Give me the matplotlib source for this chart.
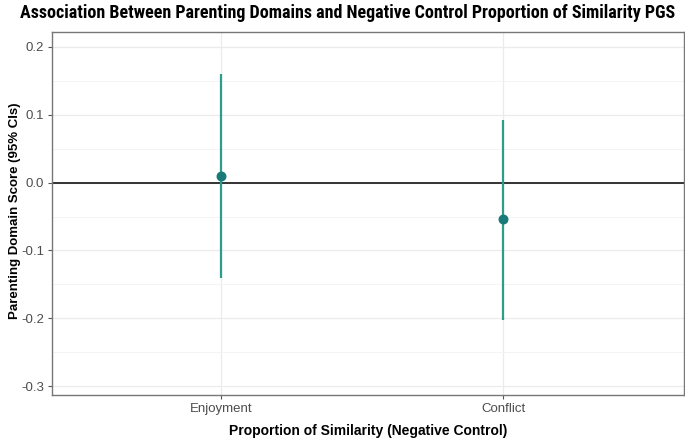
import matplotlib
matplotlib.use("Agg")
import matplotlib.pyplot as plt
from matplotlib.ticker import MultipleLocator

categories = ["Enjoyment", "Conflict"]
estimates = [0.010, -0.053]
lower = [-0.140, -0.202]
upper = [0.160, 0.093]

plt.rcParams['font.family'] = ['Liberation Sans', 'DejaVu Sans']

fig = plt.figure(figsize=(6.85, 4.48), dpi=100)
ax = fig.add_axes([52/685, 1-395/448, 632/685, 363/448])

x = list(range(1, len(categories)+1))
for xi, e, lo, hi in zip(x, estimates, lower, upper):
    ax.plot([xi, xi], [lo, hi], color='#2a9d8f', lw=1.6, zorder=3, solid_capstyle='butt')
ax.scatter(x, estimates, color='#1a7a7a', s=38, zorder=4)
ax.axhline(0, color='#333333', lw=1.4, zorder=2)

ax.set_xlim(0.4, 2.64)
ax.set_ylim(-0.313, 0.222)
ax.set_xticks(x)
ax.set_xticklabels(categories)
ticks = [-0.3, -0.2, -0.1, 0.0, 0.1, 0.2]
ax.set_yticks(ticks)
ax.set_yticklabels([f"{t:.1f}" for t in ticks])
ax.yaxis.set_minor_locator(MultipleLocator(0.05))
ax.grid(which='major', color='#ebebeb', lw=0.9)
ax.grid(which='minor', axis='y', color='#f3f3f3', lw=0.6)
ax.set_axisbelow(True)
ax.tick_params(which='minor', length=0)
ax.tick_params(which='major', length=3, color='#555555', labelcolor='#4d4d4d', labelsize=9.5, pad=2.5)
for s in ax.spines.values():
    s.set_color('#777777')
    s.set_linewidth(1.0)

ax.set_xlabel("Proportion of Similarity (Negative Control)", fontsize=10, fontweight='bold', labelpad=7)
ax.set_ylabel("Parenting Domain Score (95% CIs)", fontsize=9.5, fontweight='bold')
ax.yaxis.set_label_coords(-31/632, 0.5 + 3/363)
fig.text(0.5+5/685, 1-13/448, "Association Between Parenting Domains and Negative Control Proportion of Similarity PGS",
         ha='center', va='center', fontsize=13, fontweight='bold', family=['Roboto Condensed', 'Roboto', 'DejaVu Sans'])

fig.savefig("out.png", dpi=100)
